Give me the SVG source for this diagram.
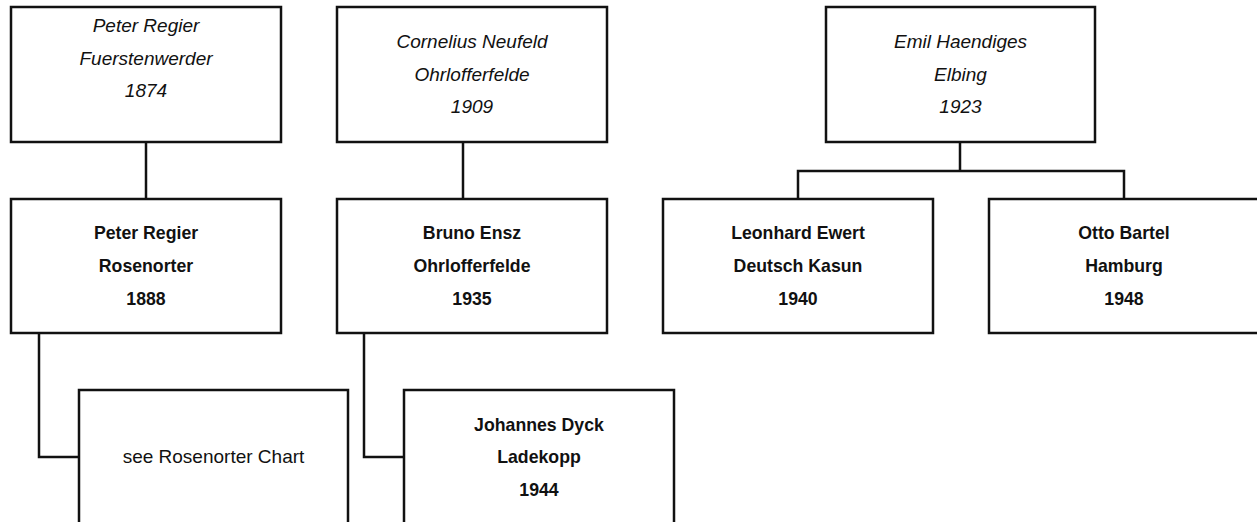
<svg xmlns="http://www.w3.org/2000/svg" width="1257" height="522" viewBox="0 0 1257 522">
<style>
.box{fill:#fff;stroke:#111;stroke-width:2.5}
.con{fill:none;stroke:#111;stroke-width:2.5}
text{font-family:"Liberation Sans",Arial,sans-serif;text-anchor:middle;fill:#111}
.i{font-style:italic;font-size:19px}
.b{font-weight:bold;font-size:17.7px}
.r{font-size:19px}
</style>
<rect width="1257" height="522" fill="#fff"/>
<g id="connectors">
<path class="con" d="M146 142V199"/>
<path class="con" d="M463 142V199"/>
<path class="con" d="M960 142V171M798 199V171H1124V199"/>
<path class="con" d="M39 333V457H79"/>
<path class="con" d="M364 333V457H404"/>
</g>
<g id="n1"><rect class="box" x="11" y="7" width="270" height="135"/>
<text class="i" x="146" y="32">Peter Regier</text><text class="i" x="146" y="65">Fuerstenwerder</text><text class="i" x="146" y="97">1874</text></g>
<g id="n2"><rect class="box" x="337" y="7" width="270" height="135"/>
<text class="i" x="472" y="48">Cornelius Neufeld</text><text class="i" x="472" y="81">Ohrlofferfelde</text><text class="i" x="472" y="113">1909</text></g>
<g id="n3"><rect class="box" x="826" y="7" width="269" height="135"/>
<text class="i" x="960.5" y="48">Emil Haendiges</text><text class="i" x="960.5" y="81">Elbing</text><text class="i" x="960.5" y="113">1923</text></g>
<g id="n4"><rect class="box" x="11" y="199" width="270" height="134"/>
<text class="b" x="146" y="239">Peter Regier</text><text class="b" x="146" y="272">Rosenorter</text><text class="b" x="146" y="305">1888</text></g>
<g id="n5"><rect class="box" x="337" y="199" width="270" height="134"/>
<text class="b" x="472" y="239">Bruno Ensz</text><text class="b" x="472" y="272">Ohrlofferfelde</text><text class="b" x="472" y="305">1935</text></g>
<g id="n6"><rect class="box" x="663" y="199" width="270" height="134"/>
<text class="b" x="798" y="239">Leonhard Ewert</text><text class="b" x="798" y="272">Deutsch Kasun</text><text class="b" x="798" y="305">1940</text></g>
<g id="n7"><rect class="box" x="989" y="199" width="270" height="134"/>
<text class="b" x="1124" y="239">Otto Bartel</text><text class="b" x="1124" y="272">Hamburg</text><text class="b" x="1124" y="305">1948</text></g>
<g id="n8"><rect class="box" x="79" y="390" width="269" height="140"/>
<text class="r" x="213.5" y="463">see Rosenorter Chart</text></g>
<g id="n9"><rect class="box" x="404" y="390" width="270" height="140"/>
<text class="b" x="539" y="431">Johannes Dyck</text><text class="b" x="539" y="463">Ladekopp</text><text class="b" x="539" y="496">1944</text></g>
</svg>
